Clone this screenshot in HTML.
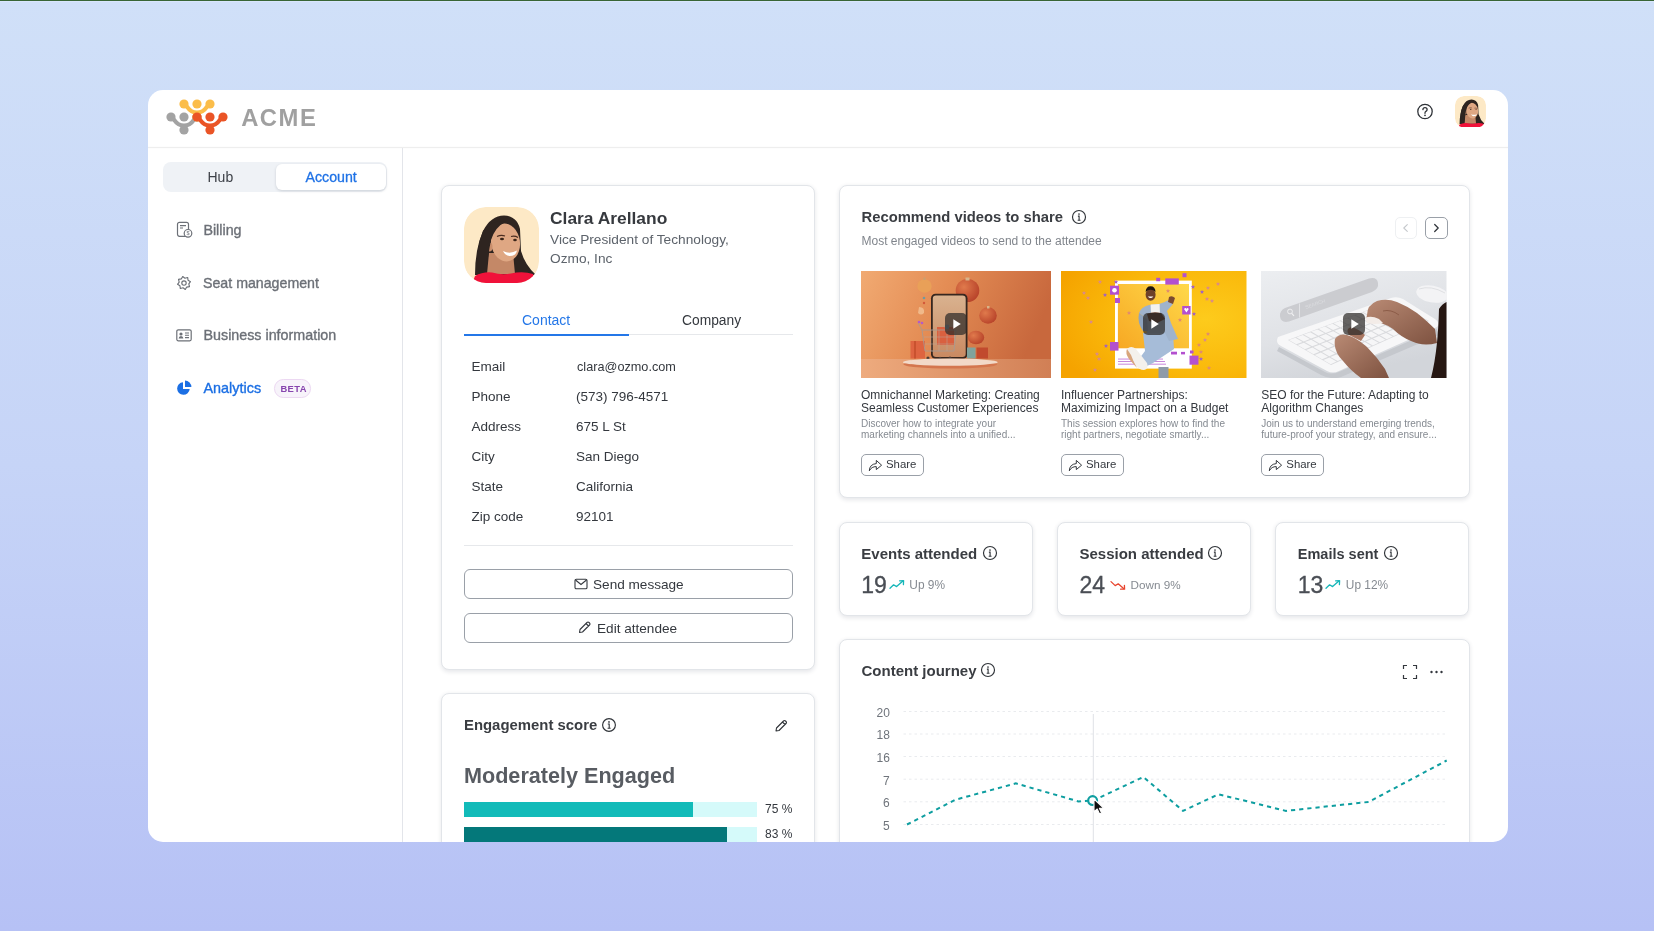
<!DOCTYPE html>
<html><head><meta charset="utf-8">
<style>
*{box-sizing:border-box;margin:0;padding:0}
html,body{width:1654px;height:931px;overflow:hidden}
body{font-family:"Liberation Sans",sans-serif;background:linear-gradient(180deg,#d0e0f8 0%,#c6d4f7 50%,#b6c1f5 100%);position:relative;color:#2b2f36}
.topline{position:absolute;left:0;top:0;width:1654px;height:1px;background:#386535;box-shadow:0 1px 0 #d9e6fc}
.frame{position:absolute;left:148px;top:90px;width:1360px;height:752px;background:#fff;border-radius:15px;overflow:hidden;will-change:transform}
.abs{position:absolute}
.hdrline{position:absolute;left:0;top:57px;width:1360px;height:1px;background:#eeeeee;box-shadow:0 0 2px rgba(0,0,0,0.05)}
.sideline{position:absolute;left:254px;top:58px;width:1px;height:700px;background:#e3e5ea}
.t{position:absolute;white-space:nowrap;line-height:1}
</style></head>
<body>
<div class="topline"></div>
<div class="frame">
<div class="hdrline"></div>
<div class="sideline"></div>
<svg class="abs" style="left:12.00px;top:5.00px" width="72" height="45" viewBox="0 0 72 45"><path d="M11,22 C15,23 14.5,30.6 24,30.6 C33.5,30.6 33,23 37,22" fill="none" stroke="#a3a3a3" stroke-width="4.2" stroke-linecap="round"/><circle cx="11" cy="22" r="4.6" fill="#a3a3a3"/><circle cx="37" cy="22" r="4.6" fill="#a3a3a3"/><circle cx="24" cy="35" r="4.6" fill="#a3a3a3"/><path d="M24,30 L24,35" stroke="#a3a3a3" stroke-width="6"/><circle cx="24" cy="22" r="4.6" fill="#a3a3a3"/><path d="M24,9 C28,10 27.5,17.6 37,17.6 C46.5,17.6 46,10 50,9" fill="none" stroke="#fbbd4a" stroke-width="4.2" stroke-linecap="round"/><circle cx="24" cy="9" r="4.6" fill="#fbbd4a"/><circle cx="50" cy="9" r="4.6" fill="#fbbd4a"/><circle cx="37" cy="22" r="4.6" fill="#fbbd4a"/><path d="M37,17 L37,22" stroke="#fbbd4a" stroke-width="6"/><circle cx="37" cy="9" r="4.6" fill="#fbbd4a"/><path d="M37,22 C41,23 40.5,30.6 50,30.6 C59.5,30.6 59,23 63,22" fill="none" stroke="#ea5426" stroke-width="4.2" stroke-linecap="round"/><circle cx="37" cy="22" r="4.6" fill="#ea5426"/><circle cx="63" cy="22" r="4.6" fill="#ea5426"/><circle cx="50" cy="35" r="4.6" fill="#ea5426"/><path d="M50,30 L50,35" stroke="#ea5426" stroke-width="6"/><circle cx="50" cy="22" r="4.6" fill="#ea5426"/></svg>
<div class="t" style="left:93.20px;top:15.75px;font-size:23.8px;color:#a0a0a0;font-weight:bold;letter-spacing:1.5px;">ACME</div>
<svg class="abs" style="left:1268.00px;top:13.00px" width="18" height="18" viewBox="0 0 18 18"><circle cx="9" cy="8.5" r="7.2" fill="none" stroke="#2f3338" stroke-width="1.3"/><path d="M6.9,6.6 Q7,4.6 9,4.6 Q11.1,4.6 11.1,6.5 Q11.1,7.7 9.9,8.3 Q9,8.8 9,9.9 L9,10.3" fill="none" stroke="#2f3338" stroke-width="1.3" stroke-linecap="round"/><circle cx="9" cy="12.3" r="0.85" fill="#2f3338"/></svg>
<div class="abs" style="left:15.00px;top:72.00px;width:224.00px;height:30.00px;background:#eff2f6;border-radius:8px;"></div>
<div class="abs" style="left:128.00px;top:74.00px;width:110.00px;height:26.00px;background:#fff;border-radius:6px;box-shadow:0 1px 3px rgba(20,30,50,0.16);"></div>
<div class="t" style="left:59.50px;top:80.35px;font-size:14px;color:#3d4148;">Hub</div>
<div class="t" style="left:157.50px;top:80.18px;font-size:14.2px;color:#1f72e6;-webkit-text-stroke:0.3px #1f72e6;">Account</div>
<div class="t" style="left:55.40px;top:132.90px;font-size:14.3px;color:#6c7077;-webkit-text-stroke:0.35px #6c7077;">Billing</div>
<div class="t" style="left:55.00px;top:185.68px;font-size:14.2px;color:#6c7077;-webkit-text-stroke:0.35px #6c7077;">Seat management</div>
<div class="t" style="left:55.50px;top:237.90px;font-size:14.3px;color:#6c7077;-webkit-text-stroke:0.35px #6c7077;">Business information</div>
<div class="t" style="left:55.50px;top:290.81px;font-size:14.4px;color:#1b6fe4;-webkit-text-stroke:0.35px #1b6fe4;">Analytics</div>
<div class="abs" style="left:126.00px;top:289.20px;width:37.00px;height:18.50px;background:#f7f3fa;border:1px solid #ecd8f2;border-radius:9.25px;"></div>
<div class="t" style="left:132.40px;top:294.14px;font-size:9.4px;color:#8745ae;font-weight:bold;letter-spacing:0.45px;">BETA</div>
<svg class="abs" style="left:28.00px;top:131.00px" width="17" height="17" viewBox="0 0 17 17"><rect x="1.5" y="1.3" width="11" height="14" rx="2" fill="none" stroke="#6c7077" stroke-width="1.2"/><path d="M4,4.6 H10 M4,7 H7" stroke="#6c7077" stroke-width="1.2"/><circle cx="12" cy="12.3" r="3.8" fill="#fff" stroke="#6c7077" stroke-width="1.2"/><text x="12" y="14.3" font-size="5.5" text-anchor="middle" fill="#6c7077" font-family="Liberation Sans">$</text></svg>
<svg class="abs" style="left:29.00px;top:186.00px" width="14" height="14" viewBox="0 0 14 14"><path d="M13.47,5.71 L11.81,7.96 L12.49,10.67 L9.72,11.07 L8.29,13.47 L6.04,11.81 L3.33,12.49 L2.93,9.72 L0.53,8.29 L2.19,6.04 L1.51,3.33 L4.28,2.93 L5.71,0.53 L7.96,2.19 L10.67,1.51 L11.07,4.28 Z" fill="none" stroke="#6c7077" stroke-width="1.15" stroke-linejoin="round"/><circle cx="7" cy="7" r="2.2" fill="none" stroke="#6c7077" stroke-width="1.15"/></svg>
<svg class="abs" style="left:28.00px;top:239.00px" width="16" height="13" viewBox="0 0 16 13"><rect x="0.8" y="0.8" width="14.4" height="11" rx="1.5" fill="none" stroke="#6c7077" stroke-width="1.2"/><circle cx="5" cy="5" r="1.6" fill="#6c7077"/><path d="M2.6,9.6 Q2.8,7 5,7 Q7.2,7 7.4,9.6 Z" fill="#6c7077"/><path d="M9,4 H13 M9,6.3 H13 M9,8.6 H13" stroke="#6c7077" stroke-width="1.1"/></svg>
<svg class="abs" style="left:28.00px;top:290.00px" width="16" height="16" viewBox="0 0 16 16"><path d="M7,2.2 A6.3,6.3 0 1,0 13.7,9 L7,9 Z" fill="#1b6fe4"/><path d="M9,0.6 A6.5,6.5 0 0,1 15.4,7 L9,7 Z" fill="#1b6fe4"/></svg>
<div class="abs" style="left:293.20px;top:94.70px;width:374.20px;height:485.20px;background:#fff;border:1px solid #e2e5e9;border-radius:8px;box-shadow:0 1.5px 4px rgba(30,40,60,0.11);"></div>
<svg class="abs" style="left:316.00px;top:117.00px" width="75" height="76" viewBox="0 0 75 76"><defs><clipPath id="av1"><rect x="0" y="0" width="75" height="76" rx="22"/></clipPath></defs><g clip-path="url(#av1)"><rect x="0" y="0" width="75" height="76" rx="21" fill="#fde9c6"/><path d="M11,68 Q11,42 19,24 Q27,8.5 40,8.5 Q53,9 56,22 L57,44 Q61,58 72,68 Z" fill="#2e2420"/><path d="M25,46 L49,46 L51,67 L23,67 Z" fill="#c48867"/><ellipse cx="41.5" cy="35.5" rx="14.5" ry="19" transform="rotate(-8 41.5 35.5)" fill="#dfa783"/><ellipse cx="25.5" cy="40" rx="3" ry="4.5" fill="#c98e6c"/><path d="M19,24 Q27,13 42,14.5 Q31,20 27,33 Q24,48 22,67 L13,67 Q12,40 19,24 Z" fill="#2e2420"/><path d="M33,29.5 Q37,27.5 41,29" stroke="#4a2c20" stroke-width="1.2" fill="none"/><path d="M47,29.5 Q51,28.5 54,30.5" stroke="#4a2c20" stroke-width="1.2" fill="none"/><ellipse cx="38" cy="32" rx="2" ry="1.3" fill="#3a2418"/><ellipse cx="51" cy="33" rx="1.8" ry="1.2" fill="#3a2418"/><path d="M39,44 Q46,47.5 53,43.5 Q52,49 45.5,49 Q41,48.5 39,44 Z" fill="#fff"/><path d="M8,77 L11,69 Q19,64.5 28,65.5 Q38,68.5 47,66.5 Q59,64 69,67 L73,77 Z" fill="#f0123a"/></g></svg>
<div class="t" style="left:402.00px;top:119.57px;font-size:17.4px;color:#36393e;font-weight:bold;">Clara Arellano</div>
<div class="t" style="left:402.00px;top:143.20px;font-size:13.7px;color:#5d636b;">Vice President of Technology,</div>
<div class="t" style="left:402.00px;top:162.00px;font-size:13.7px;color:#5d636b;">Ozmo, Inc</div>
<div class="abs" style="left:315.50px;top:244.00px;width:329.50px;height:1.00px;background:#e6e8eb;"></div>
<div class="abs" style="left:315.50px;top:243.50px;width:165.50px;height:2.00px;background:#2477e8;"></div>
<div class="t" style="left:374.00px;top:223.35px;font-size:14px;color:#2477e8;">Contact</div>
<div class="t" style="left:534.00px;top:224.12px;font-size:13.8px;color:#34383e;">Company</div>
<div class="t" style="left:323.50px;top:269.57px;font-size:13.5px;color:#34383e;">Email</div>
<div class="t" style="left:429.00px;top:271.25px;font-size:12.7px;color:#34383e;">clara@ozmo.com</div>
<div class="t" style="left:323.50px;top:299.57px;font-size:13.5px;color:#34383e;">Phone</div>
<div class="t" style="left:428.00px;top:299.57px;font-size:13.5px;color:#34383e;">(573) 796-4571</div>
<div class="t" style="left:323.50px;top:329.57px;font-size:13.5px;color:#34383e;">Address</div>
<div class="t" style="left:428.00px;top:329.57px;font-size:13.5px;color:#34383e;">675 L St</div>
<div class="t" style="left:323.50px;top:359.57px;font-size:13.5px;color:#34383e;">City</div>
<div class="t" style="left:428.00px;top:359.57px;font-size:13.5px;color:#34383e;">San Diego</div>
<div class="t" style="left:323.50px;top:389.57px;font-size:13.5px;color:#34383e;">State</div>
<div class="t" style="left:428.00px;top:389.57px;font-size:13.5px;color:#34383e;">California</div>
<div class="t" style="left:323.50px;top:419.57px;font-size:13.5px;color:#34383e;">Zip code</div>
<div class="t" style="left:428.00px;top:419.57px;font-size:13.5px;color:#34383e;">92101</div>
<div class="abs" style="left:315.50px;top:455.00px;width:329.50px;height:1.00px;background:#e6e8eb;"></div>
<div class="abs" style="left:315.50px;top:479.00px;width:329.50px;height:30.00px;border:1px solid #9aa0a8;border-radius:6px;background:#fff;"></div>
<div class="abs" style="left:315.50px;top:523.00px;width:329.50px;height:30.00px;border:1px solid #9aa0a8;border-radius:6px;background:#fff;"></div>
<div class="t" style="left:445.00px;top:487.79px;font-size:13.6px;color:#34383e;">Send message</div>
<div class="t" style="left:449.00px;top:531.79px;font-size:13.6px;color:#34383e;">Edit attendee</div>
<svg class="abs" style="left:426.00px;top:488.00px" width="14" height="12" viewBox="0 0 14 12"><rect x="1" y="1.2" width="12" height="9.6" rx="1.3" fill="none" stroke="#34383e" stroke-width="1.1"/><path d="M1.5,2 L7,6.5 L12.5,2" fill="none" stroke="#34383e" stroke-width="1.1"/></svg>
<svg class="abs" style="left:429.00px;top:530.00px" width="15" height="15" viewBox="0 0 15 15"><path d="M2.5,12.5 L3,9.5 L10,2.5 Q11,1.5 12,2.5 L12.5,3 Q13.5,4 12.5,5 L5.5,12 Z M9,3.5 L11.5,6" fill="none" stroke="#34383e" stroke-width="1.1" stroke-linejoin="round"/></svg>
<div class="abs" style="left:293.00px;top:603.00px;width:374.00px;height:200.00px;background:#fff;border:1px solid #e2e5e9;border-radius:8px;box-shadow:0 1.5px 4px rgba(30,40,60,0.11);"></div>
<div class="t" style="left:316.00px;top:628.19px;font-size:14.9px;color:#3a3d42;font-weight:bold;">Engagement score</div>
<svg class="abs" style="left:453.00px;top:627.00px" width="16" height="16" viewBox="0 0 16 16"><circle cx="8" cy="8" r="6.4" fill="none" stroke="#2f3338" stroke-width="1.15"/><circle cx="8" cy="4.9" r="0.85" fill="#2f3338"/><path d="M6.8,7 H8.2 V11.2 M6.6,11.3 H9.6" fill="none" stroke="#2f3338" stroke-width="1.1"/></svg>
<svg class="abs" style="left:625.00px;top:628.00px" width="16" height="16" viewBox="0 0 16 16"><path d="M3,13 L3.5,10 L10.5,3 Q11.5,2 12.5,3 L13,3.5 Q14,4.5 13,5.5 L6,12.5 Z M9.5,4 L12,6.5" fill="none" stroke="#2f3338" stroke-width="1.1" stroke-linejoin="round"/></svg>
<div class="t" style="left:316.00px;top:674.52px;font-size:21.6px;color:#585c62;font-weight:bold;">Moderately Engaged</div>
<div class="abs" style="left:315.50px;top:712.00px;width:293.50px;height:15.00px;background:#d5fafa;"></div>
<div class="abs" style="left:315.50px;top:712.00px;width:229.50px;height:15.00px;background:#12bbb9;"></div>
<div class="t" style="left:617.00px;top:713.34px;font-size:12px;color:#34383e;">75 %</div>
<div class="abs" style="left:315.50px;top:736.50px;width:293.50px;height:15.00px;background:#d5fafa;"></div>
<div class="abs" style="left:315.50px;top:736.50px;width:263.50px;height:15.00px;background:#04787a;"></div>
<div class="t" style="left:617.00px;top:737.84px;font-size:12px;color:#34383e;">83 %</div>
<div class="abs" style="left:690.50px;top:94.60px;width:631.00px;height:313.60px;background:#fff;border:1px solid #e2e5e9;border-radius:8px;box-shadow:0 1.5px 4px rgba(30,40,60,0.11);"></div>
<div class="t" style="left:713.50px;top:119.67px;font-size:14.8px;color:#3a3d42;font-weight:bold;">Recommend videos to share</div>
<svg class="abs" style="left:923.00px;top:119.00px" width="16" height="16" viewBox="0 0 16 16"><circle cx="8" cy="8" r="6.5" fill="none" stroke="#2f3338" stroke-width="1.15"/><circle cx="8" cy="5" r="0.85" fill="#2f3338"/><path d="M6.9,7.1 H8.1 V11.1 M6.7,11.2 H9.5" fill="none" stroke="#2f3338" stroke-width="1.1"/></svg>
<div class="t" style="left:713.50px;top:145.04px;font-size:12px;color:#80858c;">Most engaged videos to send to the attendee</div>
<div class="abs" style="left:1247.00px;top:127.00px;width:21.50px;height:21.50px;border:1px solid #eef0f2;border-radius:5px;"></div>
<svg class="abs" style="left:1247.00px;top:127.00px" width="22" height="22" viewBox="0 0 22 22"><path d="M12.3,7.6 L8.8,11 L12.3,14.4" fill="none" stroke="#c5c8cc" stroke-width="1.1" stroke-linecap="round" stroke-linejoin="round"/></svg>
<div class="abs" style="left:1277.00px;top:127.00px;width:22.50px;height:22.00px;border:1px solid #9aa0a8;border-radius:5px;"></div>
<svg class="abs" style="left:1277.00px;top:127.00px" width="22" height="22" viewBox="0 0 22 22"><path d="M9.7,7.5 L13.2,11 L9.7,14.5" fill="none" stroke="#34383e" stroke-width="1.3" stroke-linecap="round" stroke-linejoin="round"/></svg>
<svg class="abs" style="left:713.00px;top:181.00px" width="190" height="107" viewBox="0 0 190 107"><defs><linearGradient id="g1" x1="0" y1="0" x2="1" y2="0.25"><stop offset="0" stop-color="#f1aa72"/><stop offset="0.45" stop-color="#e48d55"/><stop offset="1" stop-color="#c8683d"/></linearGradient><linearGradient id="g1f" x1="0" y1="0" x2="1" y2="0"><stop offset="0" stop-color="#eeab7e"/><stop offset="1" stop-color="#d17f55"/></linearGradient><linearGradient id="g1s" x1="0" y1="0" x2="0" y2="1"><stop offset="0" stop-color="#d9b28f"/><stop offset="1" stop-color="#c98a62"/></linearGradient><radialGradient id="pk" cx="0.35" cy="0.35" r="0.7"><stop offset="0" stop-color="#e07a4c"/><stop offset="1" stop-color="#b8432a"/></radialGradient></defs><rect width="190" height="107" fill="url(#g1)"/><rect y="88" width="190" height="19" fill="url(#g1f)"/><ellipse cx="63.5" cy="15" rx="7.2" ry="6.8" fill="#e9a058"/><rect x="62.5" y="6.5" width="2" height="2.5" fill="#c9a070"/><ellipse cx="106.5" cy="19.5" rx="11.8" ry="11.5" fill="url(#pk)"/><rect x="104.5" y="6.5" width="4" height="3" fill="#d8b48a"/><ellipse cx="127" cy="44.5" rx="8.8" ry="8.2" fill="url(#pk)"/><rect x="126" y="35" width="2.5" height="2.5" fill="#d8b48a"/><ellipse cx="115" cy="66.5" rx="8.2" ry="6.8" fill="url(#pk)"/><circle cx="63" cy="27" r="1.3" fill="#6f9aa0"/><circle cx="63" cy="32" r="1.2" fill="#d35a3a"/><path d="M58,36 Q64,36 63,42 Q60,45 57,42 Z" fill="#f0b98a"/><rect x="70" y="22.8" width="36.5" height="65" rx="4.5" fill="#37271f"/><rect x="71.8" y="24.6" width="32.9" height="61.4" rx="3.2" fill="url(#g1s)"/><rect x="49.5" y="70" width="14.5" height="17.5" fill="#de6440"/><rect x="53" y="70" width="2" height="17.5" fill="#c9522f"/><rect x="106" y="76.5" width="8.5" height="11" fill="#7fa39d"/><rect x="115.5" y="76.5" width="11.5" height="11" fill="#c14a2e"/><rect x="76" y="56" width="17" height="18" fill="#d9603f"/><circle cx="86" cy="56" r="2.4" fill="#8a9aa6"/><path d="M57,52 L61,59 L95,59 L93,80 L64,80 L61,59" fill="none" stroke="#a99890" stroke-width="0.9"/><path d="M63,66 H94 M64,73 H93 M70,59 V80 M78,59 V80 M86,59 V80" stroke="#b9a49a" stroke-width="0.5"/><circle cx="67" cy="87" r="1.6" fill="#4a3a34"/><circle cx="89" cy="87" r="1.6" fill="#4a3a34"/><circle cx="79" cy="87.3" r="1.5" fill="#4a3a34"/><circle cx="58" cy="51" r="1.3" fill="#b45ac8"/><circle cx="61" cy="52" r="1.3" fill="#b45ac8"/><ellipse cx="89.3" cy="93.3" rx="47" ry="4.2" fill="#d4764e"/><ellipse cx="89.3" cy="91.2" rx="47.5" ry="3.6" fill="#f2d9c8"/></svg>
<svg class="abs" style="left:797.00px;top:223.00px" width="22" height="22" viewBox="0 0 22 22"><rect x="0" y="0" width="22" height="22" rx="5" fill="rgba(45,42,40,0.72)"/><path d="M8.3,6.2 L15.8,11 L8.3,15.8 Z" fill="#fff"/></svg>
<div class="t" style="left:713.00px;top:298.74px;font-size:12px;color:#34383e;">Omnichannel Marketing: Creating</div>
<div class="t" style="left:713.00px;top:311.74px;font-size:12px;color:#34383e;">Seamless Customer Experiences</div>
<div class="t" style="left:713.00px;top:328.74px;font-size:10px;color:#858a91;">Discover how to integrate your</div>
<div class="t" style="left:713.00px;top:340.14px;font-size:10px;color:#858a91;">marketing channels into a unified...</div>
<div class="abs" style="left:713.00px;top:363.50px;width:63.00px;height:22.50px;border:1px solid #9aa0a8;border-radius:5px;"></div>
<svg class="abs" style="left:719.50px;top:368.00px" width="15" height="14" viewBox="0 0 15 14"><path d="M1.3,12.8 Q1.6,6.2 8.3,5.6 L8.3,2.4 L13.6,7.2 L8.3,11.6 L8.3,8.6 Q3.6,8.5 1.3,12.8 Z" fill="none" stroke="#34383e" stroke-width="1" stroke-linejoin="round"/></svg>
<div class="t" style="left:738.00px;top:369.15px;font-size:11.4px;color:#34383e;">Share</div>
<svg class="abs" style="left:913.00px;top:181.00px" width="185.5" height="107" viewBox="0 0 185.5 107"><defs><radialGradient id="g2" cx="0.78" cy="0.45" r="0.85"><stop offset="0" stop-color="#fdcb1c"/><stop offset="0.6" stop-color="#fab80a"/><stop offset="1" stop-color="#f5a300"/></radialGradient><linearGradient id="g2i" x1="0" y1="1" x2="1" y2="0"><stop offset="0" stop-color="#f7a823"/><stop offset="1" stop-color="#ffd94a"/></linearGradient></defs><rect width="185.5" height="107" fill="url(#g2)"/><rect x="54" y="9.6" width="76.8" height="88" fill="#fff"/><rect x="56.9" y="13" width="71.1" height="64.3" fill="url(#g2i)"/><rect x="57" y="87.6" width="45" height="0.9" fill="#c27ad6"/><rect x="57" y="90" width="47" height="0.9" fill="#c27ad6"/><rect x="57" y="92.7" width="48" height="0.9" fill="#c27ad6"/><rect x="97.5" y="96" width="10" height="11" fill="#8e9aa8"/><path d="M82,62 L112,61 L113,78 L104,84 L92,92 L84,96 L78,88 L84,80 Z" fill="#a6bcd8"/><path d="M66,78 Q70,74 75,78 L86,92 Q88,98 83,99 Q78,99 74,94 Z" fill="#f4f1ec"/><path d="M66,78 Q64,82 68,88 L76,97 Q72,90 70,84 Z" fill="#d8a67c"/><path d="M78,42 Q80,36 88,34 L98,33 Q104,31 108,29 L112,33 L106,40 L110,52 L117,68 L108,70 L104,62 L86,62 Q82,52 86,48 Z" fill="#9fb3cc"/><path d="M78,42 Q76,52 82,60 L87,60 L86,48 Z" fill="#8ea3bd"/><path d="M89.6,33.5 L98.6,33 L99,44 L90,44 Z" fill="#f3f2f0"/><path d="M86,43 Q92,40 100,42 L104,48 L96,52 L88,50 Z" fill="#5b3422"/><path d="M108,26 Q111,24 114,27 L112,33 L107,31 Z" fill="#7a4a30"/><ellipse cx="89.6" cy="23.8" rx="5" ry="6" fill="#6e4029"/><path d="M84.6,21 Q85,15.3 89.6,15.3 Q94.2,15.3 94.6,21 Q92,18.6 89.6,18.8 Q87,18.6 84.6,21 Z" fill="#1e1410"/><path d="M86.8,25.5 Q89.6,28.6 92.4,25.5 Z" fill="#fff"/><rect x="49" y="14.7" width="9" height="9" fill="#b350cf"/><rect x="54" y="27" width="5" height="5" fill="#b350cf"/><rect x="104.3" y="7.4" width="13.5" height="6.2" fill="#b350cf"/><rect x="95.2" y="6.8" width="4" height="3.4" fill="#b350cf"/><rect x="121.2" y="35" width="8.4" height="8.5" fill="#b350cf"/><rect x="49" y="71" width="8.5" height="8.6" fill="#b350cf"/><rect x="128.5" y="84.6" width="9" height="9.1" fill="#b350cf"/><rect x="129" y="79.5" width="3.5" height="3" fill="#b350cf"/><rect x="110" y="80.7" width="6" height="2.8" fill="#b350cf"/><rect x="120" y="80.9" width="4" height="2.5" fill="#b350cf"/><rect x="121.5" y="2.2" width="4" height="4" fill="#b350cf"/><circle cx="53.5" cy="19.2" r="2.3" fill="#fff"/><path d="M123,38 Q125,36 125.4,38.4 Q125.8,36 127.8,38 L125.4,41.4 Z" fill="#fff"/><polygon points="39.00,8.70 39.61,10.16 41.19,10.29 39.98,11.32 40.35,12.86 39.00,12.04 37.65,12.86 38.02,11.32 36.81,10.29 38.39,10.16" fill="#d98a8a"/><polygon points="23.00,19.70 23.61,21.16 25.19,21.29 23.98,22.32 24.35,23.86 23.00,23.04 21.65,23.86 22.02,22.32 20.81,21.29 22.39,21.16" fill="#d98a8a"/><polygon points="27.00,24.70 27.61,26.16 29.19,26.29 27.98,27.32 28.35,28.86 27.00,28.04 25.65,28.86 26.02,27.32 24.81,26.29 26.39,26.16" fill="#d98a8a"/><polygon points="44.00,21.70 44.61,23.16 46.19,23.29 44.98,24.32 45.35,25.86 44.00,25.04 42.65,25.86 43.02,24.32 41.81,23.29 43.39,23.16" fill="#9e5fc8"/><polygon points="30.00,48.70 30.61,50.16 32.19,50.29 30.98,51.32 31.35,52.86 30.00,52.03 28.65,52.86 29.02,51.32 27.81,50.29 29.39,50.16" fill="#d98a8a"/><polygon points="55.00,8.70 55.61,10.16 57.19,10.29 55.98,11.32 56.35,12.86 55.00,12.04 53.65,12.86 54.02,11.32 52.81,10.29 54.39,10.16" fill="#9e5fc8"/><polygon points="147.00,14.70 147.61,16.16 149.19,16.29 147.98,17.32 148.35,18.86 147.00,18.04 145.65,18.86 146.02,17.32 144.81,16.29 146.39,16.16" fill="#d98a8a"/><polygon points="157.00,10.70 157.61,12.16 159.19,12.29 157.98,13.32 158.35,14.86 157.00,14.04 155.65,14.86 156.02,13.32 154.81,12.29 156.39,12.16" fill="#d98a8a"/><polygon points="141.00,18.70 141.61,20.16 143.19,20.29 141.98,21.32 142.35,22.86 141.00,22.04 139.65,22.86 140.02,21.32 138.81,20.29 140.39,20.16" fill="#9e5fc8"/><polygon points="146.00,25.70 146.61,27.16 148.19,27.29 146.98,28.32 147.35,29.86 146.00,29.04 144.65,29.86 145.02,28.32 143.81,27.29 145.39,27.16" fill="#d98a8a"/><polygon points="151.00,27.70 151.61,29.16 153.19,29.29 151.98,30.32 152.35,31.86 151.00,31.04 149.65,31.86 150.02,30.32 148.81,29.29 150.39,29.16" fill="#d98a8a"/><polygon points="132.00,13.70 132.61,15.16 134.19,15.29 132.98,16.32 133.35,17.86 132.00,17.04 130.65,17.86 131.02,16.32 129.81,15.29 131.39,15.16" fill="#9e5fc8"/><polygon points="68.00,39.70 68.61,41.16 70.19,41.29 68.98,42.32 69.35,43.86 68.00,43.03 66.65,43.86 67.02,42.32 65.81,41.29 67.39,41.16" fill="#e08a70"/><polygon points="107.00,17.70 107.61,19.16 109.19,19.29 107.98,20.32 108.35,21.86 107.00,21.04 105.65,21.86 106.02,20.32 104.81,19.29 106.39,19.16" fill="#e08a70"/><polygon points="119.00,46.70 119.61,48.16 121.19,48.29 119.98,49.32 120.35,50.86 119.00,50.03 117.65,50.86 118.02,49.32 116.81,48.29 118.39,48.16" fill="#e08a70"/><polygon points="147.00,60.70 147.61,62.16 149.19,62.29 147.98,63.32 148.35,64.86 147.00,64.03 145.65,64.86 146.02,63.32 144.81,62.29 146.39,62.16" fill="#e08a70"/><polygon points="144.00,66.70 144.61,68.16 146.19,68.29 144.98,69.32 145.35,70.86 144.00,70.03 142.65,70.86 143.02,69.32 141.81,68.29 143.39,68.16" fill="#d98a8a"/><polygon points="138.00,71.70 138.61,73.16 140.19,73.29 138.98,74.32 139.35,75.86 138.00,75.03 136.65,75.86 137.02,74.32 135.81,73.29 137.39,73.16" fill="#e08a70"/><polygon points="140.00,78.70 140.61,80.16 142.19,80.29 140.98,81.32 141.35,82.86 140.00,82.03 138.65,82.86 139.02,81.32 137.81,80.29 139.39,80.16" fill="#e08a70"/><polygon points="140.00,85.70 140.61,87.16 142.19,87.29 140.98,88.32 141.35,89.86 140.00,89.03 138.65,89.86 139.02,88.32 137.81,87.29 139.39,87.16" fill="#9e5fc8"/><polygon points="36.00,80.70 36.61,82.16 38.19,82.29 36.98,83.32 37.35,84.86 36.00,84.03 34.65,84.86 35.02,83.32 33.81,82.29 35.39,82.16" fill="#d98a8a"/><polygon points="38.00,85.70 38.61,87.16 40.19,87.29 38.98,88.32 39.35,89.86 38.00,89.03 36.65,89.86 37.02,88.32 35.81,87.29 37.39,87.16" fill="#d98a8a"/><polygon points="34.00,96.70 34.61,98.16 36.19,98.29 34.98,99.32 35.35,100.86 34.00,100.03 32.65,100.86 33.02,99.32 31.81,98.29 33.39,98.16" fill="#d98a8a"/><polygon points="148.00,94.70 148.61,96.16 150.19,96.29 148.98,97.32 149.35,98.86 148.00,98.03 146.65,98.86 147.02,97.32 145.81,96.29 147.39,96.16" fill="#e08a70"/><polygon points="45.00,72.70 45.61,74.16 47.19,74.29 45.98,75.32 46.35,76.86 45.00,76.03 43.65,76.86 44.02,75.32 42.81,74.29 44.39,74.16" fill="#9e5fc8"/><polygon points="133.00,40.70 133.61,42.16 135.19,42.29 133.98,43.32 134.35,44.86 133.00,44.03 131.65,44.86 132.02,43.32 130.81,42.29 132.39,42.16" fill="#9e5fc8"/></svg>
<svg class="abs" style="left:994.75px;top:223.00px" width="22" height="22" viewBox="0 0 22 22"><rect x="0" y="0" width="22" height="22" rx="5" fill="rgba(45,42,40,0.72)"/><path d="M8.3,6.2 L15.8,11 L8.3,15.8 Z" fill="#fff"/></svg>
<div class="t" style="left:913.00px;top:298.74px;font-size:12px;color:#34383e;">Influencer Partnerships:</div>
<div class="t" style="left:913.00px;top:311.74px;font-size:12px;color:#34383e;">Maximizing Impact on a Budget</div>
<div class="t" style="left:913.00px;top:328.74px;font-size:10px;color:#858a91;">This session explores how to find the</div>
<div class="t" style="left:913.00px;top:340.14px;font-size:10px;color:#858a91;">right partners, negotiate smartly...</div>
<div class="abs" style="left:913.00px;top:363.50px;width:63.00px;height:22.50px;border:1px solid #9aa0a8;border-radius:5px;"></div>
<svg class="abs" style="left:919.50px;top:368.00px" width="15" height="14" viewBox="0 0 15 14"><path d="M1.3,12.8 Q1.6,6.2 8.3,5.6 L8.3,2.4 L13.6,7.2 L8.3,11.6 L8.3,8.6 Q3.6,8.5 1.3,12.8 Z" fill="none" stroke="#34383e" stroke-width="1" stroke-linejoin="round"/></svg>
<div class="t" style="left:938.00px;top:369.15px;font-size:11.4px;color:#34383e;">Share</div>
<svg class="abs" style="left:1113.30px;top:181.00px" width="185.5" height="107" viewBox="0 0 185.5 107"><defs><linearGradient id="g3" x1="0" y1="0" x2="0.4" y2="1"><stop offset="0" stop-color="#eceef1"/><stop offset="0.6" stop-color="#e0e2e6"/><stop offset="1" stop-color="#d2d5da"/></linearGradient><linearGradient id="hd" x1="0" y1="0" x2="1" y2="1"><stop offset="0" stop-color="#b98a74"/><stop offset="1" stop-color="#7e5240"/></linearGradient></defs><rect width="185.5" height="107" fill="url(#g3)"/><path d="M24,37 L108,7.5 Q116,5.5 117,12 Q118,18 111,21 L28,50.5 Q20,52.5 19,45.5 Q18.5,39.5 24,37 Z" fill="#cbccd0"/><line x1="38.5" y1="32.5" x2="38.5" y2="46.5" stroke="#e2e3e6" stroke-width="1"/><circle cx="29" cy="40.5" r="2.4" fill="none" stroke="#f2f2f3" stroke-width="0.9"/><line x1="30.7" y1="42.3" x2="33" y2="44.8" stroke="#f2f2f3" stroke-width="1.1"/><text x="45" y="38" font-size="5" fill="#dcdde0" font-family="Liberation Sans" transform="rotate(-19 45 38)">SEARCH</text><path d="M18,76 L64,101 Q70,104 78,101 L176,58 L178,64 L80,106 Q70,109 60,104 L16,80 Z" fill="#c5c8cd"/><path d="M17,66 Q14,72 20,75 L66,100 Q72,103 78,100 L176,56 Q180,52 174,48 L142,28 Q136,25 130,27 Z" fill="#f7f7f8"/><path d="M27,69 L131,30 L168,50 L70,94 Z" fill="#d9dadd"/><polygon points="27.9,69.0 34.3,66.7 41.5,70.9 35.3,73.3" fill="#f6f6f7"/><polygon points="35.3,66.2 41.8,63.9 48.9,68.0 42.7,70.4" fill="#f6f6f7"/><polygon points="42.8,63.4 49.2,61.2 56.2,65.2 50.0,67.6" fill="#f6f6f7"/><polygon points="50.2,60.6 56.6,58.4 63.6,62.3 57.4,64.7" fill="#f6f6f7"/><polygon points="57.6,57.8 64.0,55.6 70.9,59.5 64.7,61.9" fill="#f6f6f7"/><polygon points="65.0,55.0 71.5,52.8 78.3,56.6 72.1,59.0" fill="#f6f6f7"/><polygon points="72.5,52.2 78.9,50.0 85.6,53.8 79.4,56.2" fill="#f6f6f7"/><polygon points="79.9,49.4 86.3,47.2 93.0,50.9 86.8,53.3" fill="#f6f6f7"/><polygon points="87.3,46.7 93.7,44.4 100.3,48.1 94.1,50.5" fill="#f6f6f7"/><polygon points="94.7,43.9 101.2,41.6 107.7,45.2 101.5,47.6" fill="#f6f6f7"/><polygon points="102.2,41.1 108.6,38.8 115.0,42.4 108.8,44.8" fill="#f6f6f7"/><polygon points="109.6,38.3 116.0,36.0 122.4,39.5 116.2,41.9" fill="#f6f6f7"/><polygon points="117.0,35.5 123.4,33.3 129.7,36.7 123.5,39.1" fill="#f6f6f7"/><polygon points="124.4,32.7 130.9,30.5 137.1,33.8 130.9,36.2" fill="#f6f6f7"/><polygon points="36.5,74.0 42.9,71.7 50.0,75.8 43.9,78.3" fill="#f6f6f7"/><polygon points="43.8,71.1 50.2,68.8 57.3,72.9 51.2,75.3" fill="#f6f6f7"/><polygon points="51.2,68.2 57.5,65.9 64.6,70.0 58.5,72.4" fill="#f6f6f7"/><polygon points="58.5,65.4 64.9,63.1 71.8,67.0 65.7,69.5" fill="#f6f6f7"/><polygon points="65.9,62.5 72.2,60.2 79.1,64.1 73.0,66.6" fill="#f6f6f7"/><polygon points="73.2,59.7 79.6,57.4 86.4,61.2 80.2,63.7" fill="#f6f6f7"/><polygon points="80.5,56.8 86.9,54.5 93.6,58.3 87.5,60.7" fill="#f6f6f7"/><polygon points="87.9,53.9 94.2,51.6 100.9,55.4 94.8,57.8" fill="#f6f6f7"/><polygon points="95.2,51.1 101.6,48.8 108.2,52.4 102.0,54.9" fill="#f6f6f7"/><polygon points="102.6,48.2 108.9,45.9 115.4,49.5 109.3,52.0" fill="#f6f6f7"/><polygon points="109.9,45.4 116.2,43.1 122.7,46.6 116.6,49.1" fill="#f6f6f7"/><polygon points="117.2,42.5 123.6,40.2 129.9,43.7 123.8,46.1" fill="#f6f6f7"/><polygon points="124.6,39.6 130.9,37.3 137.2,40.8 131.1,43.2" fill="#f6f6f7"/><polygon points="131.9,36.8 138.3,34.5 144.5,37.8 138.4,40.3" fill="#f6f6f7"/><polygon points="45.1,78.9 51.4,76.6 58.5,80.7 52.5,83.3" fill="#f6f6f7"/><polygon points="52.3,76.0 58.6,73.7 65.7,77.8 59.7,80.3" fill="#f6f6f7"/><polygon points="59.6,73.1 65.9,70.7 72.9,74.8 66.9,77.3" fill="#f6f6f7"/><polygon points="66.9,70.2 73.1,67.8 80.1,71.8 74.1,74.3" fill="#f6f6f7"/><polygon points="74.1,67.2 80.4,64.9 87.3,68.8 81.2,71.3" fill="#f6f6f7"/><polygon points="81.4,64.3 87.6,61.9 94.4,65.8 88.4,68.3" fill="#f6f6f7"/><polygon points="88.6,61.4 94.9,59.0 101.6,62.8 95.6,65.3" fill="#f6f6f7"/><polygon points="95.9,58.4 102.2,56.1 108.8,59.8 102.8,62.3" fill="#f6f6f7"/><polygon points="103.1,55.5 109.4,53.1 116.0,56.8 110.0,59.3" fill="#f6f6f7"/><polygon points="110.4,52.6 116.7,50.2 123.2,53.8 117.1,56.3" fill="#f6f6f7"/><polygon points="117.6,49.6 123.9,47.3 130.3,50.8 124.3,53.3" fill="#f6f6f7"/><polygon points="124.9,46.7 131.2,44.3 137.5,47.8 131.5,50.3" fill="#f6f6f7"/><polygon points="132.1,43.8 138.4,41.4 144.7,44.8 138.7,47.3" fill="#f6f6f7"/><polygon points="139.4,40.8 145.7,38.5 151.9,41.8 145.9,44.4" fill="#f6f6f7"/><polygon points="53.7,83.9 59.9,81.5 67.1,85.7 61.1,88.3" fill="#f6f6f7"/><polygon points="60.9,80.9 67.1,78.5 74.2,82.6 68.2,85.2" fill="#f6f6f7"/><polygon points="68.0,77.9 74.2,75.5 81.3,79.6 75.3,82.1" fill="#f6f6f7"/><polygon points="75.2,74.9 81.4,72.5 88.3,76.5 82.4,79.1" fill="#f6f6f7"/><polygon points="82.4,71.9 88.6,69.5 95.4,73.4 89.5,76.0" fill="#f6f6f7"/><polygon points="89.5,68.9 95.7,66.5 102.5,70.4 96.6,72.9" fill="#f6f6f7"/><polygon points="96.7,65.9 102.9,63.5 109.6,67.3 103.7,69.9" fill="#f6f6f7"/><polygon points="103.9,62.9 110.1,60.5 116.7,64.2 110.8,66.8" fill="#f6f6f7"/><polygon points="111.0,59.9 117.2,57.5 123.8,61.2 117.9,63.7" fill="#f6f6f7"/><polygon points="118.2,56.9 124.4,54.5 130.9,58.1 125.0,60.7" fill="#f6f6f7"/><polygon points="125.4,53.9 131.6,51.5 138.0,55.0 132.1,57.6" fill="#f6f6f7"/><polygon points="132.5,50.9 138.7,48.5 145.1,52.0 139.1,54.5" fill="#f6f6f7"/><polygon points="139.7,47.9 145.9,45.5 152.2,48.9 146.2,51.5" fill="#f6f6f7"/><polygon points="146.9,44.9 153.1,42.5 159.3,45.8 153.3,48.4" fill="#f6f6f7"/><polygon points="62.3,88.9 68.4,86.5 75.6,90.6 69.7,93.2" fill="#f6f6f7"/><polygon points="69.4,85.9 75.5,83.4 82.6,87.5 76.7,90.1" fill="#f6f6f7"/><polygon points="76.4,82.8 82.6,80.3 89.6,84.3 83.7,87.0" fill="#f6f6f7"/><polygon points="83.5,79.7 89.7,77.2 96.6,81.2 90.7,83.8" fill="#f6f6f7"/><polygon points="90.6,76.6 96.8,74.2 103.6,78.1 97.7,80.7" fill="#f6f6f7"/><polygon points="97.7,73.6 103.8,71.1 110.6,74.9 104.7,77.6" fill="#f6f6f7"/><polygon points="104.8,70.5 110.9,68.0 117.6,71.8 111.8,74.4" fill="#f6f6f7"/><polygon points="111.9,67.4 118.0,64.9 124.6,68.7 118.8,71.3" fill="#f6f6f7"/><polygon points="118.9,64.3 125.1,61.9 131.7,65.5 125.8,68.2" fill="#f6f6f7"/><polygon points="126.0,61.3 132.2,58.8 138.7,62.4 132.8,65.0" fill="#f6f6f7"/><polygon points="133.1,58.2 139.2,55.7 145.7,59.3 139.8,61.9" fill="#f6f6f7"/><polygon points="140.2,55.1 146.3,52.6 152.7,56.1 146.8,58.8" fill="#f6f6f7"/><polygon points="147.3,52.0 153.4,49.6 159.7,53.0 153.8,55.6" fill="#f6f6f7"/><polygon points="154.4,49.0 160.5,46.5 166.7,49.9 160.8,52.5" fill="#f6f6f7"/><ellipse cx="171" cy="23" rx="16" ry="8.5" transform="rotate(10 171 23)" fill="#f3f3f5"/><path d="M158,18 Q170,14 184,22" stroke="#d5d7da" stroke-width="0.7" fill="none"/><path d="M106,44 Q106,34 116,30 Q126,27 136,31 Q146,35 156,42 Q166,50 174,58 L176,72 Q162,76 150,70 Q140,66 132,58 Q126,54 120,52 L112,52 Q104,50 106,44 Z" fill="url(#hd)"/><path d="M104,47 Q110,44 118,48 L122,52 Q114,54 106,52 Z" fill="#f3ece8"/><path d="M122,40 Q130,38 138,44" stroke="#8c5c48" stroke-width="1" fill="none"/><path d="M74,68 Q78,62 86,64 Q96,67 106,76 Q116,86 124,98 L128,107 L100,107 Q90,100 82,90 Q72,80 74,68 Z" fill="url(#hd)"/><path d="M88,64 Q84,58 90,56 Q98,58 104,64 L100,70 Z" fill="#a97762"/><path d="M178,38 Q181,33 185.5,31 L185.5,107 L170,107 Q177,80 178,38 Z" fill="#261712"/></svg>
<svg class="abs" style="left:1195.05px;top:223.00px" width="22" height="22" viewBox="0 0 22 22"><rect x="0" y="0" width="22" height="22" rx="5" fill="rgba(45,42,40,0.72)"/><path d="M8.3,6.2 L15.8,11 L8.3,15.8 Z" fill="#fff"/></svg>
<div class="t" style="left:1113.30px;top:298.74px;font-size:12px;color:#34383e;">SEO for the Future: Adapting to</div>
<div class="t" style="left:1113.30px;top:311.74px;font-size:12px;color:#34383e;">Algorithm Changes</div>
<div class="t" style="left:1113.30px;top:328.74px;font-size:10px;color:#858a91;">Join us to understand emerging trends,</div>
<div class="t" style="left:1113.30px;top:340.14px;font-size:10px;color:#858a91;">future-proof your strategy, and ensure...</div>
<div class="abs" style="left:1113.30px;top:363.50px;width:63.00px;height:22.50px;border:1px solid #9aa0a8;border-radius:5px;"></div>
<svg class="abs" style="left:1119.80px;top:368.00px" width="15" height="14" viewBox="0 0 15 14"><path d="M1.3,12.8 Q1.6,6.2 8.3,5.6 L8.3,2.4 L13.6,7.2 L8.3,11.6 L8.3,8.6 Q3.6,8.5 1.3,12.8 Z" fill="none" stroke="#34383e" stroke-width="1" stroke-linejoin="round"/></svg>
<div class="t" style="left:1138.30px;top:369.15px;font-size:11.4px;color:#34383e;">Share</div>
<div class="abs" style="left:690.80px;top:431.80px;width:194.00px;height:93.80px;background:#fff;border:1px solid #e2e5e9;border-radius:8px;box-shadow:0 1.5px 4px rgba(30,40,60,0.11);"></div>
<div class="t" style="left:713.30px;top:456.00px;font-size:15px;color:#3a3d42;font-weight:bold;">Events attended</div>
<svg class="abs" style="left:833.50px;top:455.00px" width="16" height="16" viewBox="0 0 16 16"><circle cx="8" cy="8" r="6.5" fill="none" stroke="#2f3338" stroke-width="1.15"/><circle cx="8" cy="5" r="0.85" fill="#2f3338"/><path d="M6.9,7.1 H8.1 V11.1 M6.7,11.2 H9.5" fill="none" stroke="#2f3338" stroke-width="1.1"/></svg>
<div class="t" style="left:713.30px;top:483.83px;font-size:23px;color:#4a4e55;-webkit-text-stroke:0.3px #4a4e55;">19</div>
<svg class="abs" style="left:740.80px;top:489.00px" width="17" height="11" viewBox="0 0 17 11"><path d="M1,9.2 L4.6,5.8 L7.6,7.6 L13.6,2.2" fill="none" stroke="#15b6b8" stroke-width="1.3" stroke-linejoin="round" stroke-linecap="round"/><path d="M10.6,1.8 L14.6,1.6 L14.4,5.6" fill="none" stroke="#15b6b8" stroke-width="1.3" stroke-linecap="round" stroke-linejoin="round"/></svg>
<div class="t" style="left:761.30px;top:489.73px;font-size:11.9px;color:#858a91;">Up 9%</div>
<div class="abs" style="left:909.00px;top:431.80px;width:194.00px;height:93.80px;background:#fff;border:1px solid #e2e5e9;border-radius:8px;box-shadow:0 1.5px 4px rgba(30,40,60,0.11);"></div>
<div class="t" style="left:931.50px;top:456.00px;font-size:15px;color:#3a3d42;font-weight:bold;">Session attended</div>
<svg class="abs" style="left:1059.00px;top:455.00px" width="16" height="16" viewBox="0 0 16 16"><circle cx="8" cy="8" r="6.5" fill="none" stroke="#2f3338" stroke-width="1.15"/><circle cx="8" cy="5" r="0.85" fill="#2f3338"/><path d="M6.9,7.1 H8.1 V11.1 M6.7,11.2 H9.5" fill="none" stroke="#2f3338" stroke-width="1.1"/></svg>
<div class="t" style="left:931.50px;top:483.83px;font-size:23px;color:#4a4e55;-webkit-text-stroke:0.3px #4a4e55;">24</div>
<svg class="abs" style="left:962.00px;top:489.50px" width="17" height="11" viewBox="0 0 17 11"><path d="M1,1.6 L5.2,5.6 L8.2,3.8 L13.6,8.6" fill="none" stroke="#e8452e" stroke-width="1.3" stroke-linejoin="round" stroke-linecap="round"/><path d="M10.6,9.2 L14.6,9.2 L14.4,5.4" fill="none" stroke="#e8452e" stroke-width="1.3" stroke-linecap="round" stroke-linejoin="round"/></svg>
<div class="t" style="left:982.50px;top:489.20px;font-size:11.7px;color:#858a91;">Down 9%</div>
<div class="abs" style="left:1127.30px;top:431.80px;width:194.00px;height:93.80px;background:#fff;border:1px solid #e2e5e9;border-radius:8px;box-shadow:0 1.5px 4px rgba(30,40,60,0.11);"></div>
<div class="t" style="left:1149.80px;top:456.93px;font-size:14.5px;color:#3a3d42;font-weight:bold;">Emails sent</div>
<svg class="abs" style="left:1235.00px;top:455.00px" width="16" height="16" viewBox="0 0 16 16"><circle cx="8" cy="8" r="6.5" fill="none" stroke="#2f3338" stroke-width="1.15"/><circle cx="8" cy="5" r="0.85" fill="#2f3338"/><path d="M6.9,7.1 H8.1 V11.1 M6.7,11.2 H9.5" fill="none" stroke="#2f3338" stroke-width="1.1"/></svg>
<div class="t" style="left:1149.80px;top:483.83px;font-size:23px;color:#4a4e55;-webkit-text-stroke:0.3px #4a4e55;">13</div>
<svg class="abs" style="left:1177.30px;top:489.00px" width="17" height="11" viewBox="0 0 17 11"><path d="M1,9.2 L4.6,5.8 L7.6,7.6 L13.6,2.2" fill="none" stroke="#15b6b8" stroke-width="1.3" stroke-linejoin="round" stroke-linecap="round"/><path d="M10.6,1.8 L14.6,1.6 L14.4,5.6" fill="none" stroke="#15b6b8" stroke-width="1.3" stroke-linecap="round" stroke-linejoin="round"/></svg>
<div class="t" style="left:1197.80px;top:489.73px;font-size:11.9px;color:#858a91;">Up 12%</div>
<div class="abs" style="left:690.50px;top:548.50px;width:631.00px;height:260.00px;background:#fff;border:1px solid #e2e5e9;border-radius:8px;box-shadow:0 1.5px 4px rgba(30,40,60,0.11);"></div>
<div class="t" style="left:713.50px;top:573.30px;font-size:15px;color:#3a3d42;font-weight:bold;">Content journey</div>
<svg class="abs" style="left:831.50px;top:572.20px" width="16" height="16" viewBox="0 0 16 16"><circle cx="8" cy="8" r="6.5" fill="none" stroke="#2f3338" stroke-width="1.15"/><circle cx="8" cy="5" r="0.85" fill="#2f3338"/><path d="M6.9,7.1 H8.1 V11.1 M6.7,11.2 H9.5" fill="none" stroke="#2f3338" stroke-width="1.1"/></svg>
<svg class="abs" style="left:1254.00px;top:574.00px" width="16" height="16" viewBox="0 0 16 16"><path d="M1.5,5 V1.5 H5 M11,1.5 H14.5 V5 M14.5,11 V14.5 H11 M5,14.5 H1.5 V11" fill="none" stroke="#34383e" stroke-width="1.2"/></svg>
<svg class="abs" style="left:1281.00px;top:579.00px" width="15" height="6" viewBox="0 0 15 6"><circle cx="2.5" cy="3" r="1.2" fill="#34383e"/><circle cx="7.5" cy="3" r="1.2" fill="#34383e"/><circle cx="12.5" cy="3" r="1.2" fill="#34383e"/></svg>
<div class="t" style="left:728.50px;top:616.84px;font-size:12px;color:#6f747b;">20</div>
<div class="t" style="left:728.50px;top:639.34px;font-size:12px;color:#6f747b;">18</div>
<div class="t" style="left:728.50px;top:661.84px;font-size:12px;color:#6f747b;">16</div>
<div class="t" style="left:735.10px;top:684.54px;font-size:12px;color:#6f747b;">7</div>
<div class="t" style="left:735.10px;top:707.14px;font-size:12px;color:#6f747b;">6</div>
<div class="t" style="left:735.10px;top:729.84px;font-size:12px;color:#6f747b;">5</div>
<svg class="abs" style="left:712.00px;top:610.00px" width="600" height="150" viewBox="0 0 600 150"><line x1="43.5" y1="11.5" x2="588" y2="11.5" stroke="#e9ebee" stroke-width="1" stroke-dasharray="2.5,3"/><line x1="43.5" y1="34" x2="588" y2="34" stroke="#e9ebee" stroke-width="1" stroke-dasharray="2.5,3"/><line x1="43.5" y1="56.5" x2="588" y2="56.5" stroke="#e9ebee" stroke-width="1" stroke-dasharray="2.5,3"/><line x1="43.5" y1="79.20000000000005" x2="588" y2="79.20000000000005" stroke="#e9ebee" stroke-width="1" stroke-dasharray="2.5,3"/><line x1="43.5" y1="101.79999999999995" x2="588" y2="101.79999999999995" stroke="#e9ebee" stroke-width="1" stroke-dasharray="2.5,3"/><line x1="43.5" y1="124.5" x2="588" y2="124.5" stroke="#e9ebee" stroke-width="1" stroke-dasharray="2.5,3"/><line x1="233.29999999999995" y1="14" x2="233.29999999999995" y2="150" stroke="#dfe2e6" stroke-width="1"/><polyline points="47.0,124.5 95.5,99.7 155.8,83.4 218.4,101.4 233.0,100.6 283.4,77.0 323.0,110.9 358.6,94.3 426.0,110.9 508.7,101.9 586.7,60.5" fill="none" stroke="#0e9ea0" stroke-width="2" stroke-dasharray="4.2,4"/><circle cx="232.5999999999999" cy="100.60000000000002" r="4.4" fill="#fff" stroke="#0e9ea0" stroke-width="2.2"/><path d="M234,99 L234,112 L237.2,109 L239.6,114 L241.6,113 L239.4,108.2 L243.6,108 Z" fill="#111" stroke="#fff" stroke-width="1.1" stroke-linejoin="round"/></svg>
<svg class="abs" style="left:1307.00px;top:6.00px" width="31" height="31" viewBox="0 0 31 31"><defs><clipPath id="av2"><rect x="0" y="0" width="75" height="76" rx="22"/></clipPath></defs><g transform="scale(0.413)"><g clip-path="url(#av2)"><rect x="0" y="0" width="75" height="76" rx="21" fill="#fde9c6"/><path d="M11,68 Q11,42 19,24 Q27,8.5 40,8.5 Q53,9 56,22 L57,44 Q61,58 72,68 Z" fill="#2e2420"/><path d="M25,46 L49,46 L51,67 L23,67 Z" fill="#c48867"/><ellipse cx="41.5" cy="35.5" rx="14.5" ry="19" transform="rotate(-8 41.5 35.5)" fill="#dfa783"/><ellipse cx="25.5" cy="40" rx="3" ry="4.5" fill="#c98e6c"/><path d="M19,24 Q27,13 42,14.5 Q31,20 27,33 Q24,48 22,67 L13,67 Q12,40 19,24 Z" fill="#2e2420"/><path d="M33,29.5 Q37,27.5 41,29" stroke="#4a2c20" stroke-width="1.2" fill="none"/><path d="M47,29.5 Q51,28.5 54,30.5" stroke="#4a2c20" stroke-width="1.2" fill="none"/><ellipse cx="38" cy="32" rx="2" ry="1.3" fill="#3a2418"/><ellipse cx="51" cy="33" rx="1.8" ry="1.2" fill="#3a2418"/><path d="M39,44 Q46,47.5 53,43.5 Q52,49 45.5,49 Q41,48.5 39,44 Z" fill="#fff"/><path d="M8,77 L11,69 Q19,64.5 28,65.5 Q38,68.5 47,66.5 Q59,64 69,67 L73,77 Z" fill="#f0123a"/></g></g></svg>
</div>
</body></html>
